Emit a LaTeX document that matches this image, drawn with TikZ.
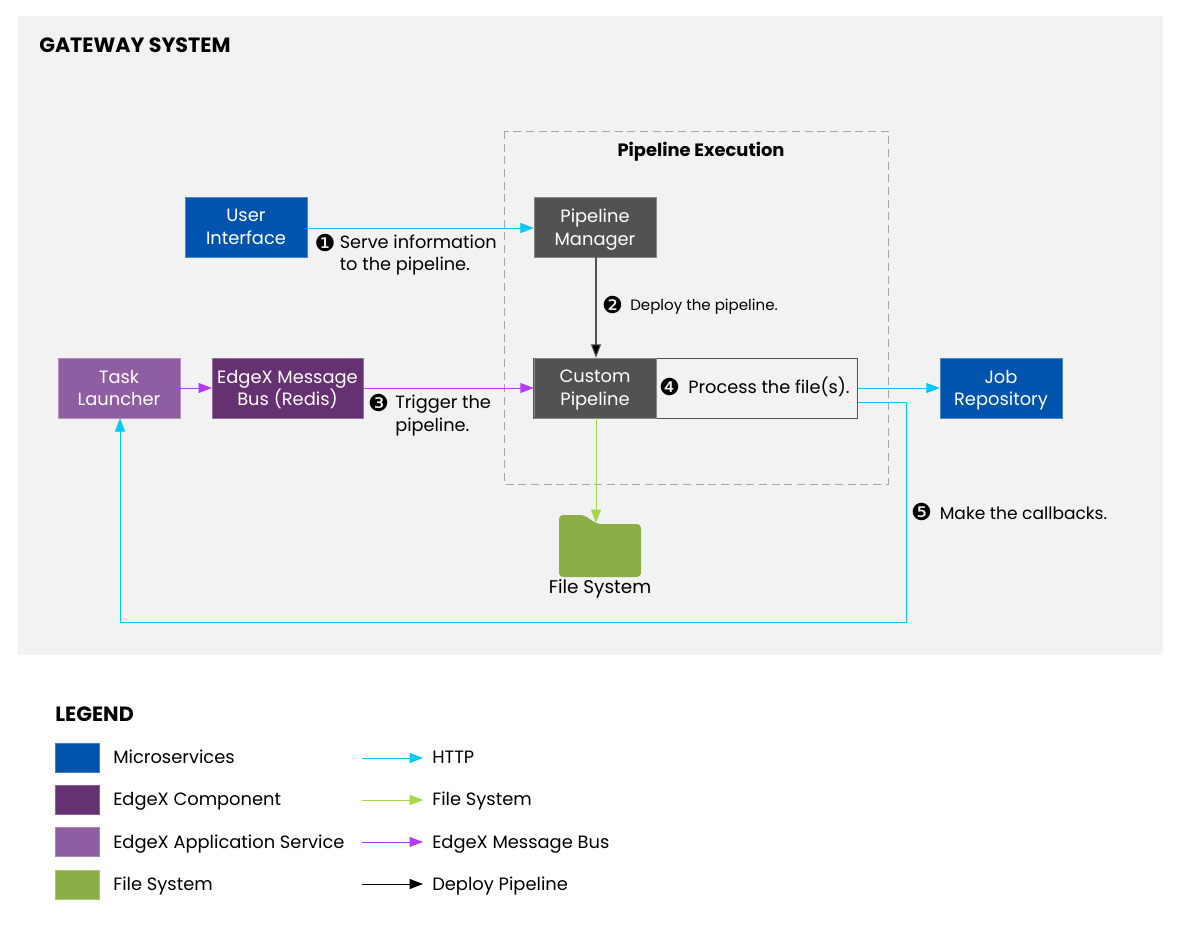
\documentclass[tikz,border=0pt]{standalone}
\usepackage{fontspec}
\setmainfont{Poppins}
\newfontfamily\numfont{DejaVu Sans}
\usetikzlibrary{arrows.meta}
\definecolor{bgc}{HTML}{F2F2F2}
\definecolor{msc}{HTML}{0054AE}
\definecolor{compc}{HTML}{653171}
\definecolor{appc}{HTML}{8F5DA2}
\definecolor{fsc}{HTML}{8BAE46}
\definecolor{darkc}{HTML}{525252}
\definecolor{httpc}{HTML}{00C7FD}
\definecolor{filec}{HTML}{A5D64C}
\definecolor{busc}{HTML}{B53CF5}
\tikzset{
  x=0.75pt,y=-0.75pt,
  comp/.style={draw=#1!70!white,line width=0.4pt,fill=#1,text=white,minimum width=91.5pt,minimum height=45pt,inner sep=0pt,align=center,text depth=0pt,font=\fontsize{13.4}{17}\selectfont},
  swatch/.style={draw=#1!75!white,line width=0.4pt,fill=#1,minimum width=33pt,minimum height=21.5pt,inner sep=0pt},
  lab/.style={inner sep=0pt,anchor=west,align=left,font=\fontsize{13.3}{17}\selectfont},
  legl/.style={inner sep=0pt,anchor=base west,font=\fontsize{13.4}{17}\selectfont},
  small/.style={inner sep=0pt,anchor=west,align=left,font=\fontsize{11.3}{14}\selectfont},
  head/.style={inner sep=0pt,anchor=west,font=\fontsize{15.5}{18}\selectfont\bfseries},
  num/.style={inner sep=0pt,font=\fontsize{17.5}{18}\numfont},
  flow/.style={draw=#1,line width=0.6pt,-{Triangle[length=10pt,width=7.5pt,fill=#1]}},
}
\begin{document}
\begin{tikzpicture}
\useasboundingbox (0,0) rectangle (1178,928);
\fill[white] (0,0) rectangle (1178,928);
\fill[bgc] (18,16) rectangle (1163,655);
\node[head] (title) at (39,45) {GATEWAY SYSTEM};
\draw[gray!70,line width=0.6pt,dash pattern=on 6pt off 3.5pt] (504,131) rectangle (888,484);
\node[inner sep=0pt,font=\fontsize{13.4}{16}\selectfont\bfseries] (exec) at (701,151.5) {Pipeline Execution};

\node[comp=msc] (ui) at (246,227) {User\\Interface};
\node[comp=darkc] (pm) at (595,227) {Pipeline\\Manager};
\node[comp=appc] (task) at (119,388) {Task\\Launcher};
\node[comp=compc] (bus) at (287.5,388) [minimum width=113pt] {EdgeX Message\\Bus (Redis)};
\node[draw=darkc,line width=0.6pt,fill=bgc,minimum width=243.5pt,minimum height=45pt,inner sep=0pt] (proc) at (695.5,388) {};
\node[comp=darkc] (cp) at (595,388) {Custom\\Pipeline};
\node[comp=msc] (job) at (1001,388) {Job\\Repository};

% folder
\fill[fsc,rounded corners=3pt] (559,515) -- (584,515) -- (597,524) -- (641,524) -- (641,577) -- (559,577) -- cycle;
\coordinate (folder) at (596,523);
\node[inner sep=0pt,font=\fontsize{13.8}{16}\selectfont] (fslabel) at (600,589) {File System};

% connectors
\draw[flow=httpc] (ui.east |- 0,228) -- (pm.west |- 0,228);
\draw[flow=black,draw=darkc,line width=0.8pt] (pm.south -| 596,0) -- (cp.north -| 596,0);
\draw[flow=busc] (task.east) -- (bus.west);
\draw[flow=busc] (bus.east) -- (cp.west);
\draw[flow=filec] (cp.south -| 596,0) -- (folder);
\draw[flow=httpc] (proc.east |- 0,388) -- (job.west |- 0,388);
\draw[flow=httpc] (proc.east |- 0,402) -- (906,402) -- (906,622) -- (120,622) -- (task.south -| 120,0);

% step labels
\node[num] (n1) at (325,242.5) {❶};
\node[lab] (t1) at (339.5,255) {Serve information\\to the pipeline.};
\node[num] (n2) at (612.5,305) {❷};
\node[small] (t2) at (630,306.5) {Deploy the pipeline.};
\node[num] (n3) at (378.5,402.5) {❸};
\node[lab] (t3) at (395,415.5) {Trigger the\\pipeline.};
\node[num] (n4) at (669.5,386.5) {❹};
\node[lab] (t4) at (688,387) {Process the file(s).};
\node[num] (n5) at (921.5,512) {❺};
\node[lab,font=\fontsize{12.8}{17}\selectfont] (t5) at (939.5,513) {Make the callbacks.};

% legend
\node[head] (leg) at (55,714.5) {LEGEND};
\node[swatch=msc] (s1) at (77,757.5) {};
\node[swatch=compc] (s2) at (77,800) {};
\node[swatch=appc] (s3) at (77,842) {};
\node[swatch=fsc] (s4) at (77,884.5) {};
\node[legl] (l1) at (113,763) {Microservices};
\node[legl] (l2) at (113,805) {EdgeX Component};
\node[legl] (l3) at (113,848) {EdgeX Application Service};
\node[legl] (l4) at (113,890) {File System};
\coordinate (a1) at (362,758);
\coordinate (a2) at (362,800);
\coordinate (a3) at (362,842);
\coordinate (a4) at (362,884);
\node[legl] (r1) at (432,763) {HTTP};
\node[legl] (r2) at (432,805) {File System};
\node[legl] (r3) at (432,848) {EdgeX Message Bus};
\node[legl] (r4) at (432,890) {Deploy Pipeline};
\draw[flow=httpc] (a1) -- (423,758);
\draw[flow=filec] (a2) -- (423,800);
\draw[flow=busc] (a3) -- (423,842);
\draw[flow=black] (a4) -- (423,884);
\end{tikzpicture}
\end{document}
